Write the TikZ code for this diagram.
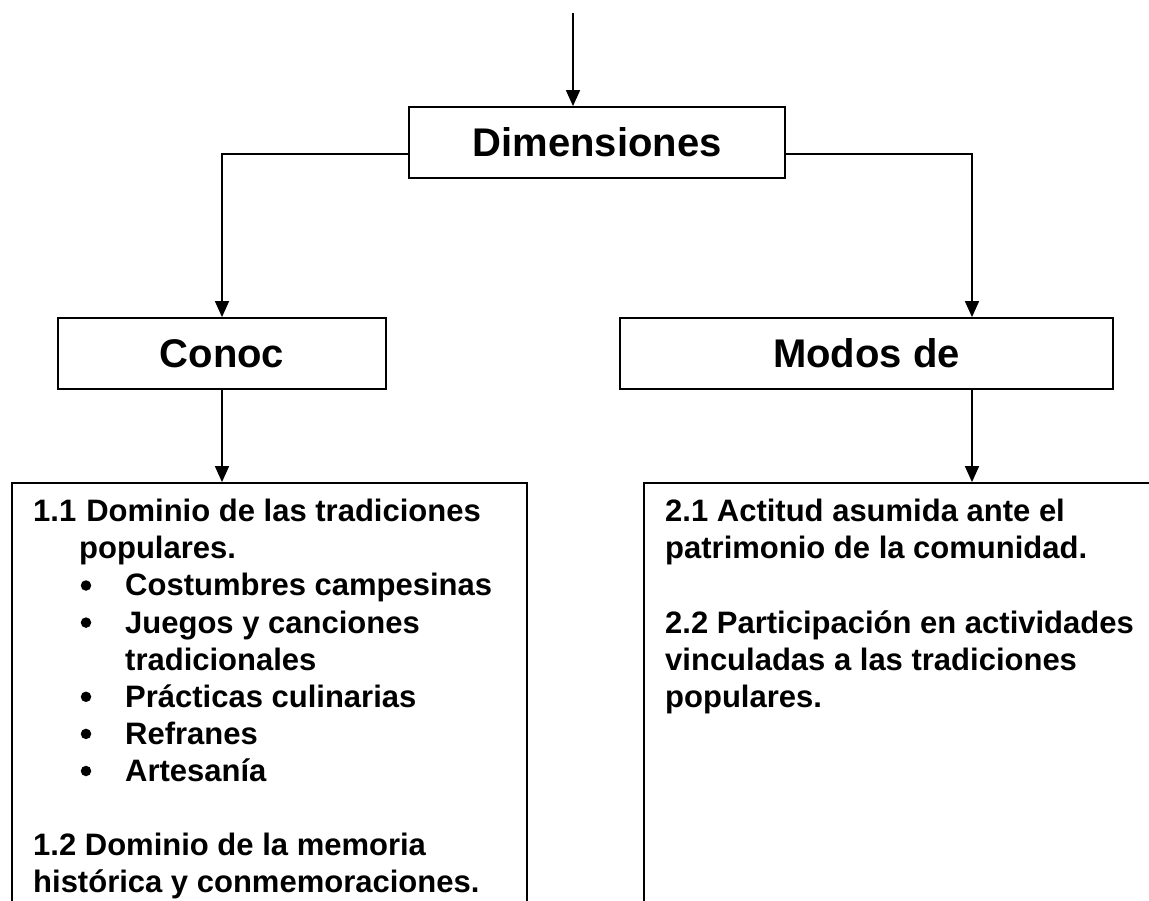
\documentclass[tikz,border=0pt]{standalone}
\usepackage{fontspec}
\setmainfont{Liberation Sans}
\usetikzlibrary{arrows.meta}
\begin{document}
\begin{tikzpicture}[x=1pt,y=-1pt,
  hbox/.style={draw,line width=1.8pt,rectangle,inner sep=0pt,minimum height=71pt,font=\fontsize{40}{48}\selectfont\bfseries},
  bigbox/.style={draw,line width=1.8pt,rectangle,inner sep=0pt},
  line/.style={anchor=base west,inner sep=0pt,font=\fontsize{31}{37}\selectfont\bfseries},
  bul/.style={circle,fill,inner sep=0pt,minimum size=10.5pt},
  arr/.style={line width=1.6pt,-{Triangle[length=16pt,width=14pt]}}]
\useasboundingbox (0,0) rectangle (1149,900);
% header boxes
\node[hbox,minimum width=376pt] (dim) at (597,142.5) {Dimensiones};
\node[hbox,minimum width=328pt] (conoc) at (222,353.5) {Conoc};
\node[hbox,minimum width=493pt] (modos) at (866.5,353.5) {Modos de};
% large boxes (open at the bottom of the page)
\node[bigbox,minimum width=515pt,minimum height=460pt] (lbox) at (269.5,713) {};
\node[bigbox,minimum width=540pt,minimum height=460pt] (rbox) at (914,713) {};
% connectors
\coordinate (top) at (573,13);
\draw[arr] (top) -- (top |- dim.north);
\draw[arr] ([yshift=-11.5pt]dim.west) -| (conoc.north);
\draw[arr] ([yshift=-11.5pt]dim.east) -| ([xshift=105.5pt]modos.north);
\draw[arr] (conoc.south) -- (conoc.south |- lbox.north);
\draw[arr] ([xshift=105.5pt]modos.south) -- ([xshift=105.5pt]modos.south |- rbox.north);
% left text
\node[line] (l1) at (33,521.7) {1.1\hspace{10pt}Dominio de las tradiciones};
\node[line] (l2) at (79,558.8) {populares.};
\node[bul] (b1) at (86,585.5) {};
\node[line] (l3) at (125,595.9) {Costumbres campesinas};
\node[bul] (b2) at (86,622.6) {};
\node[line] (l4) at (125,633) {Juegos y canciones};
\node[line] (l5) at (125,670.1) {tradicionales};
\node[bul] (b3) at (86,696.8) {};
\node[line] (l6) at (125,707.2) {Prácticas culinarias};
\node[bul] (b4) at (86,733.9) {};
\node[line] (l7) at (125,744.3) {Refranes};
\node[bul] (b5) at (86,771) {};
\node[line] (l8) at (125,781.4) {Artesanía};
\node[line] (l9) at (33,855.5) {1.2 Dominio de la memoria};
\node[line] (l10) at (33,892.6) {histórica y conmemoraciones.};
% right text
\node[line] (r1) at (665,521.7) {2.1 Actitud asumida ante el};
\node[line] (r2) at (665,558.8) {patrimonio de la comunidad.};
\node[line] (r3) at (665,633) {2.2 Participación en actividades};
\node[line] (r4) at (665,670.1) {vinculadas a las tradiciones};
\node[line] (r5) at (665,707.2) {populares.};
\end{tikzpicture}
\end{document}
